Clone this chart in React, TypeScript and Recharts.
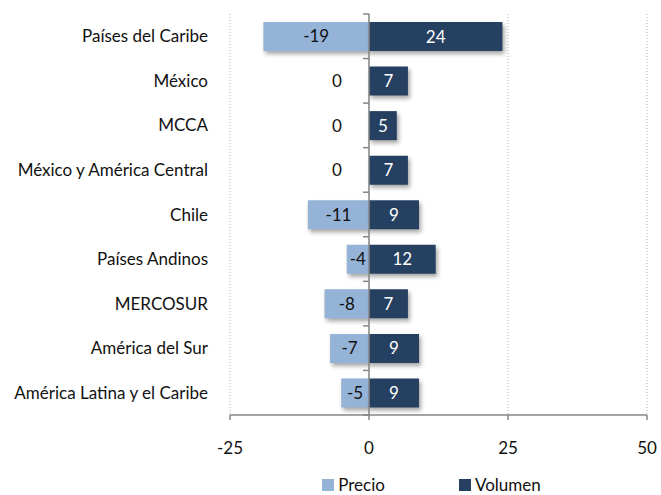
import { BarChart, Bar, XAxis, YAxis, CartesianGrid, Legend, LabelList, ReferenceLine, Rectangle } from 'recharts';

const categories = [
  'Países del Caribe',
  'México',
  'MCCA',
  'México y América Central',
  'Chile',
  'Países Andinos',
  'MERCOSUR',
  'América del Sur',
  'América Latina y el Caribe',
];
const precio = [-19, 0, 0, 0, -11, -4, -8, -7, -5];
const volumen = [24, 7, 5, 7, 9, 12, 7, 9, 9];
const xTicks = [-25, 0, 25, 50];

const PRECIO_COLOR = '#95b3d7';
const VOLUMEN_COLOR = '#254061';
const AXIS_COLOR = '#868686';
const FONT = 'Lato, "Liberation Sans", sans-serif';
const FS = 17;

const data = categories.map((name, i) => ({ name, precio: precio[i], volumen: volumen[i] }));

const shadowBar = (props: any) => (
  <g style={{ filter: 'drop-shadow(2px 3px 2px rgba(0,0,0,0.35))' }}>
    <Rectangle {...props} />
  </g>
);

const precioLabel = (props: any) => {
  const { x, y, width, height, value } = props;
  const cy = y + height / 2;
  // zero values sit outside the bar, left of the axis
  const cx = value === 0 ? x - 32 : x + width / 2;
  return (
    <text x={cx} y={cy} dy="0.35em" textAnchor="middle" fill="#111" fontSize={FS} fontFamily={FONT}>
      {value}
    </text>
  );
};

const zeroAxis = (props: any) => {
  const { x1, y1, y2 } = props;
  const top = Math.min(y1, y2);
  const bottom = Math.max(y1, y2);
  const step = (bottom - top) / categories.length;
  const ticks = Array.from({ length: categories.length + 1 }, (_, i) => top + i * step);
  return (
    <g>
      <line x1={x1} x2={x1} y1={top} y2={bottom} stroke={AXIS_COLOR} strokeWidth={1.5} />
      {ticks.map((t, i) => (
        <line key={i} x1={x1 - 6} x2={x1} y1={t} y2={t} stroke={AXIS_COLOR} strokeWidth={1.5} />
      ))}
    </g>
  );
};

const legendContent = () => (
  <div style={{ display: 'flex', justifyContent: 'center', gap: 74, fontFamily: FONT, fontSize: FS, color: '#111', paddingLeft: 216, paddingTop: 11 }}>
    {[
      { label: 'Precio', color: PRECIO_COLOR },
      { label: 'Volumen', color: VOLUMEN_COLOR },
    ].map(item => (
      <div key={item.label} style={{ display: 'flex', alignItems: 'center' }}>
        <span style={{ width: 12, height: 12, background: item.color, display: 'inline-block', marginRight: 4 }} />
        <span>{item.label}</span>
      </div>
    ))}
  </div>
);

export default function App() {
  return (
    <div style={{ position: 'absolute', left: 0, top: 0, background: '#fff' }}>
      <BarChart
        width={661}
        height={495}
        data={data}
        layout="vertical"
        stackOffset="sign"
        barSize={29}
        margin={{ top: 14, right: 14, bottom: 2, left: 0 }}
      >
        <CartesianGrid horizontal={false} stroke="#b0b0b0" strokeDasharray="1 2" />
        <XAxis
          type="number"
          domain={[-25, 50]}
          ticks={xTicks}
          stroke={AXIS_COLOR}
          strokeWidth={1.5}
          tickSize={5}
          tickMargin={22}
          height={48}
          tick={{ fill: '#111', fontSize: FS, fontFamily: FONT }}
        />
        <YAxis
          type="category"
          dataKey="name"
          width={230}
          axisLine={false}
          tickLine={false}
          tickSize={0}
          tickMargin={22}
          tick={{ fill: '#111', fontSize: FS, fontFamily: FONT }}
        />
        <ReferenceLine x={0} stroke={AXIS_COLOR} shape={zeroAxis} />
        <Bar dataKey="precio" name="Precio" stackId="a" fill={PRECIO_COLOR} shape={shadowBar} isAnimationActive={false}>
          <LabelList dataKey="precio" content={precioLabel} />
        </Bar>
        <Bar dataKey="volumen" name="Volumen" stackId="a" fill={VOLUMEN_COLOR} shape={shadowBar} isAnimationActive={false}>
          <LabelList dataKey="volumen" position="center" fill="#fff" fontSize={FS} fontFamily={FONT} />
        </Bar>
        <Legend verticalAlign="bottom" height={30} content={legendContent} />
      </BarChart>
    </div>
  );
}
